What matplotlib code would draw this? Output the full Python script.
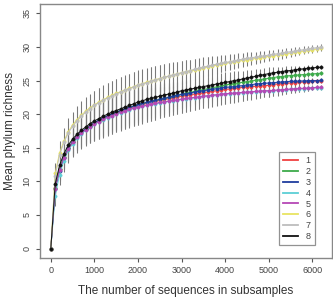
import matplotlib
matplotlib.use("Agg")
import matplotlib.pyplot as plt
import numpy as np

plt.rcParams['font.family'] = ['Liberation Sans', 'DejaVu Sans']

# subsample sizes (0..6200 step 100)
depth = list(range(0, 6201, 100))

s1 = [0, 9.0, 11.8, 13.6, 14.9, 15.9, 16.7, 17.3, 17.8, 18.3, 18.7,
      19.05, 19.4, 19.7, 20.0, 20.25, 20.5, 20.7, 20.9, 21.1, 21.3,
      21.45, 21.6, 21.75, 21.9, 22.05, 22.2, 22.3, 22.45, 22.55, 22.7,
      22.8, 22.9, 23.0, 23.1, 23.2, 23.3, 23.4, 23.5, 23.6, 23.7,
      23.75, 23.85, 23.9, 24.0, 24.05, 24.1, 24.15, 24.2, 24.25, 24.3,
      24.42, 24.5, 24.55, 24.6, 24.65, 24.7, 24.75, 24.8, 24.85, 24.9,
      24.95, 25.0]
s2 = [0, 9.0, 11.9, 13.7, 15.0, 16.0, 16.7, 17.3, 17.85, 18.3, 18.7,
      19.1, 19.45, 19.75, 20.05, 20.3, 20.55, 20.8, 21.0, 21.2, 21.4,
      21.6, 21.75, 21.9, 22.05, 22.2, 22.35, 22.5, 22.65, 22.8, 22.95,
      23.1, 23.25, 23.4, 23.55, 23.65, 23.8, 23.95, 24.05, 24.2, 24.35,
      24.45, 24.55, 24.65, 24.75, 24.85, 24.95, 25.05, 25.15, 25.25, 25.35,
      25.45, 25.55, 25.6, 25.7, 25.75, 25.8, 25.85, 25.9, 25.95, 26.0,
      26.05, 26.1]
s3 = [0, 8.8, 11.6, 13.5, 14.9, 15.9, 16.7, 17.3, 17.85, 18.3, 18.7,
      19.1, 19.45, 19.75, 20.05, 20.3, 20.55, 20.8, 21.0, 21.2, 21.4,
      21.6, 21.75, 21.9, 22.05, 22.2, 22.35, 22.5, 22.65, 22.8, 22.95,
      23.05, 23.15, 23.3, 23.4, 23.5, 23.6, 23.7, 23.8, 23.9, 24.0,
      24.05, 24.1, 24.2, 24.25, 24.35, 24.4, 24.5, 24.55, 24.6, 24.65,
      24.7, 24.75, 24.8, 24.85, 24.9, 24.9, 24.95, 24.95, 25.0, 25.0,
      25.0, 25.05]
s4 = [0, 7.8, 11.0, 13.1, 14.6, 15.6, 16.4, 17.0, 17.6, 18.05, 18.5,
      18.85, 19.2, 19.5, 19.75, 20.0, 20.25, 20.45, 20.65, 20.85, 21.0,
      21.15, 21.3, 21.45, 21.55, 21.7, 21.8, 21.9, 22.0, 22.1, 22.2,
      22.3, 22.4, 22.45, 22.55, 22.65, 22.7, 22.8, 22.85, 22.95, 23.0,
      23.05, 23.1, 23.15, 23.2, 23.25, 23.3, 23.35, 23.4, 23.45, 23.45,
      23.5, 23.55, 23.6, 23.65, 23.7, 23.75, 23.8, 23.8, 23.85, 23.9,
      23.95, 23.95]
s5 = [0, 8.9, 11.7, 13.5, 14.8, 15.8, 16.6, 17.2, 17.7, 18.15, 18.55,
      18.9, 19.25, 19.55, 19.8, 20.05, 20.3, 20.5, 20.7, 20.9, 21.05,
      21.2, 21.35, 21.5, 21.6, 21.75, 21.85, 21.95, 22.05, 22.15, 22.25,
      22.35, 22.45, 22.5, 22.6, 22.7, 22.75, 22.85, 22.9, 23.0, 23.05,
      23.1, 23.15, 23.2, 23.25, 23.3, 23.35, 23.4, 23.45, 23.5, 23.5,
      23.55, 23.6, 23.65, 23.7, 23.75, 23.8, 23.85, 23.85, 23.9, 23.95,
      24.0, 24.0]
s6 = [0, 11.2, 14.2, 16.0, 17.4, 18.4, 19.2, 19.85, 20.45, 20.95, 21.4,
      21.8, 22.15, 22.5, 22.8, 23.1, 23.35, 23.6, 23.85, 24.1, 24.35,
      24.55, 24.75, 24.95, 25.15, 25.3, 25.5, 25.65, 25.8, 26.0, 26.15,
      26.3, 26.45, 26.6, 26.75, 26.9, 27.05, 27.2, 27.3, 27.45, 27.55,
      27.7, 27.8, 27.9, 28.0, 28.1, 28.2, 28.3, 28.4, 28.5, 28.6,
      28.7, 28.8, 28.9, 29.0, 29.1, 29.2, 29.3, 29.4, 29.5, 29.6,
      29.7, 29.8]
s7 = [0, 10.8, 13.9, 15.8, 17.2, 18.2, 19.0, 19.7, 20.3, 20.8, 21.3,
      21.7, 22.05, 22.4, 22.7, 23.0, 23.3, 23.55, 23.8, 24.05, 24.3,
      24.5, 24.7, 24.9, 25.1, 25.3, 25.5, 25.65, 25.85, 26.0, 26.2,
      26.35, 26.5, 26.7, 26.85, 27.0, 27.15, 27.3, 27.45, 27.55, 27.7,
      27.8, 27.95, 28.05, 28.2, 28.3, 28.4, 28.5, 28.6, 28.7, 28.8,
      28.9, 29.0, 29.1, 29.2, 29.3, 29.4, 29.5, 29.6, 29.7, 29.8,
      29.9, 30.0]
s8 = [0, 9.6, 12.4, 14.1, 15.4, 16.3, 17.0, 17.6, 18.1, 18.6, 19.0,
      19.35, 19.7, 20.0, 20.3, 20.55, 20.8, 21.05, 21.3, 21.55, 21.8,
      22.0, 22.2, 22.35, 22.5, 22.7, 22.85, 23.0, 23.15, 23.3, 23.5,
      23.6, 23.75, 23.85, 24.0, 24.1, 24.25, 24.35, 24.5, 24.6, 24.75,
      24.85, 25.0, 25.1, 25.25, 25.4, 25.5, 25.65, 25.8, 25.9, 26.05,
      26.15, 26.25, 26.35, 26.45, 26.5, 26.6, 26.7, 26.75, 26.85, 26.9,
      26.95, 27.0]

# standard deviations (upper group: samples 6-7, lower group: 1-5, 8)
sd_hi = [0, 1.6, 1.8, 1.9, 2.0, 2.0, 2.0, 2.05, 2.1, 2.1, 2.1,
         2.15, 2.2, 2.2, 2.2, 2.2, 2.2, 2.2, 2.2, 2.2, 2.2,
         2.15, 2.1, 2.05, 2.0, 2.0, 1.95, 1.9, 1.85, 1.8, 1.75,
         1.7, 1.6, 1.55, 1.5, 1.45, 1.4, 1.3, 1.25, 1.2, 1.15,
         1.1, 1.05, 1.0, 0.95, 0.9, 0.85, 0.8, 0.8, 0.75, 0.75,
         0.7, 0.7, 0.65, 0.6, 0.6, 0.55, 0.5, 0.5, 0.45, 0.45,
         0.4, 0.4]
sd_lo = [0, 1.5, 1.6, 1.7, 1.85, 2.0, 2.1, 2.2, 2.3, 2.4, 2.5,
         2.6, 2.7, 2.7, 2.7, 2.7, 2.7, 2.7, 2.65, 2.65, 2.6,
         2.55, 2.5, 2.45, 2.4, 2.3, 2.25, 2.2, 2.1, 2.05, 2.0,
         1.95, 1.9, 1.85, 1.8, 1.8, 1.75, 1.7, 1.6, 1.55, 1.5,
         1.45, 1.4, 1.3, 1.25, 1.2, 1.15, 1.05, 1.0, 0.95, 0.9,
         0.85, 0.8, 0.7, 0.65, 0.6, 0.55, 0.5, 0.45, 0.4, 0.35,
         0.3, 0.3]

labels = ['1', '2', '3', '4', '5', '6', '7', '8']
series = [s1, s2, s3, s4, s5, s6, s7, s8]
sds = [sd_lo, sd_lo, sd_lo, sd_lo, sd_lo, sd_hi, sd_hi, sd_lo]
colors = ['#F04040', '#3DAA4A', '#1F3D9E', '#5CCFD6', '#B548B5',
          '#E8E461', '#BDBDBD', '#111111']

for s in series + sds:
    assert len(s) == len(depth)

fig = plt.figure(figsize=(3.33, 2.98), dpi=100)
ax = fig.add_axes([40/333, 1-258/298, 292/333, 254/298])

x = np.array(depth)
for s, sd in zip(series, sds):
    s = np.array(s); sd = np.array(sd)
    ax.vlines(x, s - sd, s + sd, color='#7a7a7a', lw=0.75, zorder=1)

for i, (s, c, lab) in enumerate(zip(series, colors, labels)):
    ax.plot(x, s, color=c, lw=0.7, zorder=2+i)
    ax.plot(x, s, ls='none', marker='o', ms=2.4, mfc=c, mec=c, mew=0.3, zorder=2+i)
    ax.plot([], [], color=c, lw=1.3, label=lab)

ax.set_xlim(-248, 6448)
ax.set_ylim(-1.4, 36.4)
ax.set_xticks(range(0, 6001, 1000))
ax.set_yticks(range(0, 36, 5))
for lab in ax.get_yticklabels():
    lab.set_rotation(90)
    lab.set_va('center')
ax.tick_params(axis='both', labelsize=6.5, colors='#555555', labelcolor='#444444',
               length=3, width=0.8, pad=3)
for sp in ax.spines.values():
    sp.set_color('#888888')
    sp.set_linewidth(1.0)

ax.set_ylabel('Mean phylum richness', fontsize=8.5, color='#333333', labelpad=5)
ax.set_xlabel('The number of sequences in subsamples', fontsize=8.5, color='#333333', labelpad=7)

leg = ax.legend(loc='lower left', bbox_to_anchor=(0.818, 0.051), fontsize=6.5,
                frameon=True, fancybox=False, edgecolor='#777777',
                handlelength=1.7, handletextpad=0.8, labelspacing=0.2,
                borderpad=0.45, borderaxespad=0)
leg.get_frame().set_linewidth(0.9)
for t in leg.get_texts():
    t.set_color('#444444')

fig.savefig('out.png', dpi=100)
